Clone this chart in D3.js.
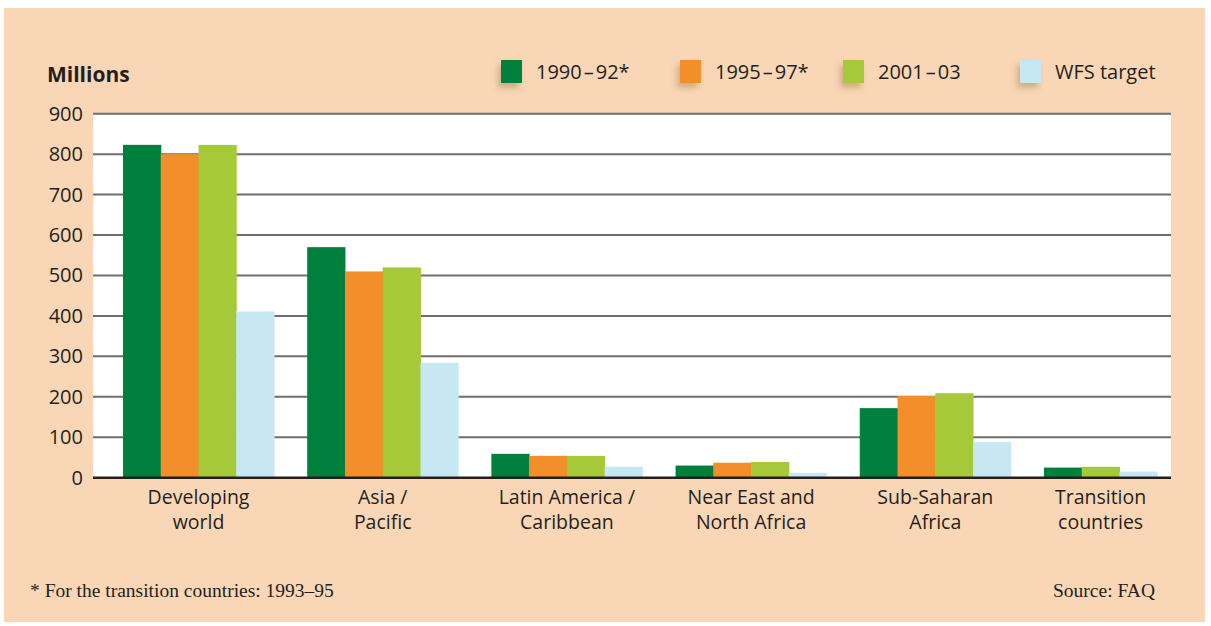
<!DOCTYPE html>
<html>
<head>
<meta charset="utf-8">
<script src="https://cdn.jsdelivr.net/npm/d3@7"></script>
<style>
  html, body { margin: 0; padding: 0; background: #fff; }
  svg { display: block; }
</style>
</head>
<body>
<svg id="chart"></svg>
<script>
// data
const regions = [
  ["Developing", "world"],
  ["Asia /", "Pacific"],
  ["Latin America /", "Caribbean"],
  ["Near East and", "North Africa"],
  ["Sub-Saharan", "Africa"],
  ["Transition", "countries"]
];
const seriesNames = ["1990\u200a\u2013\u200a92*", "1995\u200a\u2013\u200a97*", "2001\u200a\u2013\u200a03", "WFS target"];
const seriesColors = ["#007f3d", "#f28f2b", "#a6c93a", "#c7e7f3"];
const v1990 = [823, 570, 59, 30, 172, 25];
const v1995 = [800, 510, 54, 37, 202, null];
const v2001 = [823, 520, 54, 39, 209, 27];
const vWFS = [411, 284, 27, 12, 88, 15];
const yTicks = [0, 100, 200, 300, 400, 500, 600, 700, 800, 900];

const W = 1211, H = 626;
const plot = { left: 93, right: 1171, top: 113.7, bottom: 477.7 };

const svg = d3.select("#chart").attr("width", W).attr("height", H);

const defs = svg.append("defs");
const f = defs.append("filter").attr("id", "shadow")
  .attr("x", "-60%").attr("y", "-60%").attr("width", "220%").attr("height", "220%");
f.append("feDropShadow").attr("dx", -3).attr("dy", 5).attr("stdDeviation", 3)
  .attr("flood-color", "#8a5a2a").attr("flood-opacity", 0.35);

// peach panel
svg.append("rect").attr("x", 4).attr("y", 8).attr("width", 1201).attr("height", 614)
  .attr("fill", "#f9d7b6");

// plot background
svg.append("rect")
  .attr("x", plot.left).attr("y", plot.top)
  .attr("width", plot.right - plot.left).attr("height", plot.bottom - plot.top)
  .attr("fill", "#fff");

const y = d3.scaleLinear().domain([0, 900]).range([plot.bottom, plot.top]);
const x = d3.scaleBand().domain(d3.range(regions.length))
  .range([123, 1195]).paddingInner(0.18).paddingOuter(0);
const barW = x.bandwidth() / 4;

// gridlines
svg.append("g").selectAll("line").data(yTicks.filter(d => d > 0)).join("line")
  .attr("x1", plot.left).attr("x2", plot.right)
  .attr("y1", d => y(d)).attr("y2", d => y(d))
  .attr("stroke", "#6d6e71").attr("stroke-width", 2);

// y tick labels
svg.append("g").selectAll("text").data(yTicks).join("text")
  .attr("x", 83).attr("y", d => y(d) + 7)
  .attr("text-anchor", "end")
  .attr("font-family", "'Open Sans', sans-serif").attr("font-size", 20)
  .attr("fill", "#231f20")
  .text(d => d);

// bars
const allSeries = [v1990, v1995, v2001, vWFS];
const groups = svg.append("g").selectAll("g").data(regions.map((r, i) => i)).join("g")
  .attr("transform", i => `translate(${x(i)},0)`);

groups.each(function (i) {
  const present = allSeries.map((s, k) => ({ v: s[i], k })).filter(d => d.v != null);
  d3.select(this).selectAll("rect").data(present).join("rect")
    .attr("x", (d, j) => j * barW)
    .attr("width", barW + 0.5)
    .attr("y", d => y(d.v))
    .attr("height", d => y(0) - y(d.v))
    .attr("fill", d => seriesColors[d.k]);
  const center = present.length * barW / 2;
  const t = d3.select(this).append("text")
    .attr("text-anchor", "middle")
    .attr("font-family", "'Open Sans', sans-serif").attr("font-size", 19.5)
    .attr("fill", "#231f20");
  regions[i].forEach((line, li) => {
    t.append("tspan").attr("x", center).attr("y", 504 + li * 24.5).text(line);
  });
});

// baseline
svg.append("line")
  .attr("x1", plot.left).attr("x2", plot.right)
  .attr("y1", y(0)).attr("y2", y(0))
  .attr("stroke", "#231f20").attr("stroke-width", 2.5);

// axis title
svg.append("text").attr("x", 47).attr("y", 82)
  .attr("font-family", "'Open Sans', sans-serif").attr("font-size", 21)
  .attr("font-weight", "bold").attr("fill", "#231f20")
  .text("Millions");

// legend
const legendX = [501, 680, 843, 1020];
const legend = svg.append("g").selectAll("g").data(seriesNames).join("g")
  .attr("transform", (d, i) => `translate(${legendX[i]},60)`);
legend.append("rect").attr("width", 21).attr("height", 23)
  .attr("fill", (d, i) => seriesColors[i]).attr("filter", "url(#shadow)");
legend.append("text").attr("x", 35).attr("y", 19)
  .attr("font-family", "'Open Sans', sans-serif").attr("font-size", 20)
  .attr("fill", "#231f20")
  .text(d => d);

// footnotes
svg.append("text").attr("x", 30).attr("y", 597)
  .attr("font-family", "'Liberation Serif', serif").attr("font-size", 19.5)
  .attr("fill", "#231f20")
  .text("* For the transition countries: 1993\u201395");
svg.append("text").attr("x", 1155).attr("y", 597).attr("text-anchor", "end")
  .attr("font-family", "'Liberation Serif', serif").attr("font-size", 19.5)
  .attr("fill", "#231f20")
  .text("Source: FAQ");
</script>
</body>
</html>
